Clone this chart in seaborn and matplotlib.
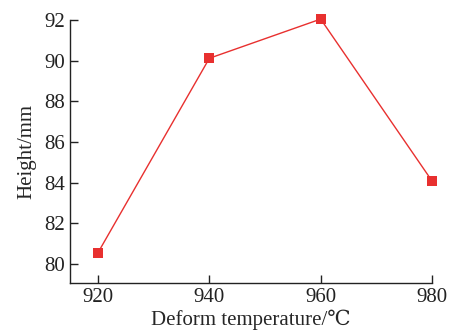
import pandas as pd
import seaborn as sns
import matplotlib.pyplot as plt

# values
temperature = [920, 940, 960, 980]
height = [80.55, 90.12, 92.05, 84.08]
x_ticks = [920, 940, 960, 980]
y_ticks = [80, 82, 84, 86, 88, 90, 92]

data = pd.DataFrame({"temperature": temperature, "height": height})

sns.set_style("ticks")
plt.rcParams["font.family"] = ["Liberation Serif", "DejaVu Serif"]

fig = plt.figure(figsize=(4.5, 3.35), dpi=100)
ax = fig.add_axes([0.156, 0.155, 0.804, 0.785])

sns.lineplot(data=data, x="temperature", y="height", ax=ax,
             color="#e8302f", marker="s", markersize=7, markeredgewidth=0,
             linewidth=1, clip_on=False)

ax.set_xlim(915, 980)
ax.set_ylim(79.05, 92)
ax.set_xticks(x_ticks)
ax.set_yticks(y_ticks)
ax.tick_params(direction="in", length=6, width=1, labelsize=15, colors="#222222")
for side in ["top", "right"]:
    ax.spines[side].set_visible(False)
for side in ["left", "bottom"]:
    ax.spines[side].set_color("#222222")
    ax.spines[side].set_linewidth(1)

ax.set_xlabel("Deform temperature/℃", fontsize=15, labelpad=2)
ax.set_ylabel("Height/mm", fontsize=15, labelpad=6)

fig.savefig("out.png", dpi=100)
